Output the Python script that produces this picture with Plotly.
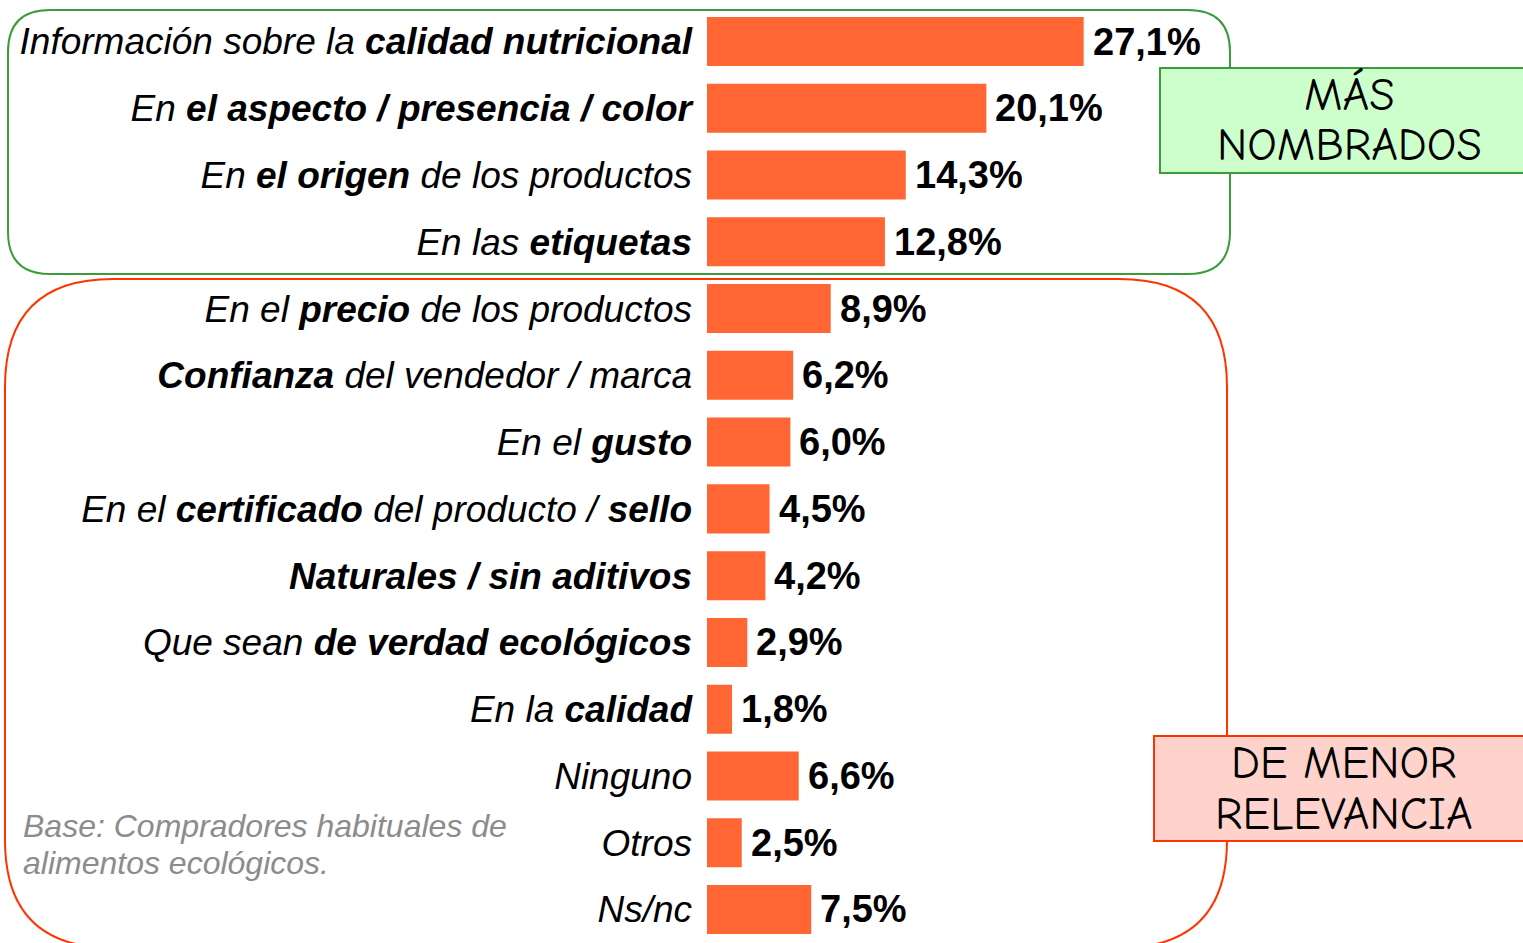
import plotly.graph_objects as go

W, H = 1523, 943

# --- data -------------------------------------------------------------
categories = [
    "<i>Información sobre la <b>calidad nutricional</b></i>",
    "<i>En <b>el aspecto / presencia / color</b></i>",
    "<i>En <b>el origen</b> de los productos</i>",
    "<i>En las <b>etiquetas</b></i>",
    "<i>En el <b>precio</b> de los productos</i>",
    "<i><b>Confianza</b> del vendedor / marca</i>",
    "<i>En el <b>gusto</b></i>",
    "<i>En el <b>certificado</b> del producto / <b>sello</b></i>",
    "<i><b>Naturales / sin aditivos</b></i>",
    "<i>Que sean <b>de verdad ecológicos</b></i>",
    "<i>En la <b>calidad</b></i>",
    "<i>Ninguno</i>",
    "<i>Otros</i>",
    "<i>Ns/nc</i>",
]
values = [27.1, 20.1, 14.3, 12.8, 8.9, 6.2, 6.0, 4.5, 4.2, 2.9, 1.8, 6.6, 2.5, 7.5]
value_labels = [f"{v:.1f}".replace(".", ",") + "%" for v in values]

group_top = ["MÁS", "NOMBRADOS"]
group_bottom = ["DE MENOR", "RELEVANCIA"]
base_note = ["Base: Compradores habituales de", "alimentos ecológicos."]

BAR = "#FF6633"
GREEN = "#3C9C3C"
RED = "#FF3300"
SANS = "Liberation Sans, Arial"

fig = go.Figure()
idx = list(range(len(categories)))
fig.add_trace(go.Bar(
    x=values, y=idx, orientation="h",
    marker=dict(color=BAR, line=dict(width=0)),
    width=0.734, hoverinfo="skip",
))

# value labels next to each bar
for i, (v, t) in enumerate(zip(values, value_labels)):
    fig.add_annotation(x=v, y=i, xref="x", yref="y", text=f"<b>{t}</b>",
                       showarrow=False, xanchor="left", yanchor="middle",
                       xshift=7,
                       font=dict(family=SANS, size=38, color="black"))


def px(x):
    return x / W


def py(y):
    return 1 - y / H


def rounded_path(x0, y0, x1, y1, r):
    rx, ry = r / W, r / H
    X0, X1 = px(x0), px(x1)
    Y0, Y1 = py(y0), py(y1)  # Y0 top, Y1 bottom
    return (f"M {X0 + rx},{Y0} L {X1 - rx},{Y0} Q {X1},{Y0} {X1},{Y0 - ry} "
            f"L {X1},{Y1 + ry} Q {X1},{Y1} {X1 - rx},{Y1} "
            f"L {X0 + rx},{Y1} Q {X0},{Y1} {X0},{Y1 + ry} "
            f"L {X0},{Y0 - ry} Q {X0},{Y0} {X0 + rx},{Y0} Z")


shapes = [
    dict(type="path", xref="paper", yref="paper", layer="below",
         path=rounded_path(8, 10, 1230, 274, 42),
         line=dict(color=GREEN, width=2)),
    dict(type="path", xref="paper", yref="paper", layer="below",
         path=rounded_path(5, 279, 1227, 948, 108),
         line=dict(color=RED, width=2)),
    dict(type="rect", xref="paper", yref="paper", layer="above",
         x0=px(1160), x1=px(1530), y0=py(68), y1=py(173),
         fillcolor="#CCFFCC", line=dict(color=GREEN, width=2)),
    dict(type="rect", xref="paper", yref="paper", layer="above",
         x0=px(1154), x1=px(1530), y0=py(736), y1=py(841),
         fillcolor="#FFD3CC", line=dict(color=RED, width=2)),
]

comic = "Comic Sans MS, Comic Neue, Open Sans, sans-serif"
annotations = []
for cx, ys, lines in ((1349, (95, 146), group_top), (1344, (763, 814), group_bottom)):
    for yy, line in zip(ys, lines):
        annotations.append(dict(
            x=px(cx), y=py(yy), xref="paper", yref="paper", text=line,
            showarrow=False, xanchor="center", yanchor="middle",
            font=dict(family=comic, size=46, color="black")))
for yy, line in zip((826, 863), base_note):
    annotations.append(dict(
        x=px(21), y=py(yy), xref="paper", yref="paper", text=f"<i>{line}</i>",
        showarrow=False, xanchor="left", yanchor="middle", align="left",
        font=dict(family=SANS, size=32, color="#8C8C8C")))

fig.update_layout(
    width=W, height=H,
    margin=dict(l=0, r=0, t=0, b=0),
    paper_bgcolor="white", plot_bgcolor="white",
    showlegend=False,
    shapes=shapes,
    annotations=list(fig.layout.annotations) + annotations,
    xaxis=dict(domain=[707 / W, 1.0], range=[0, 816 / 13.9],
               visible=False, fixedrange=True),
    yaxis=dict(range=[13.502, -0.6215], tickmode="array", tickvals=idx,
               ticktext=categories, ticks="", showgrid=False, zeroline=False,
               showline=False, ticklabelstandoff=14,
               tickfont=dict(family=SANS, size=37, color="black"),
               fixedrange=True),
)

fig.write_html("out.html")
